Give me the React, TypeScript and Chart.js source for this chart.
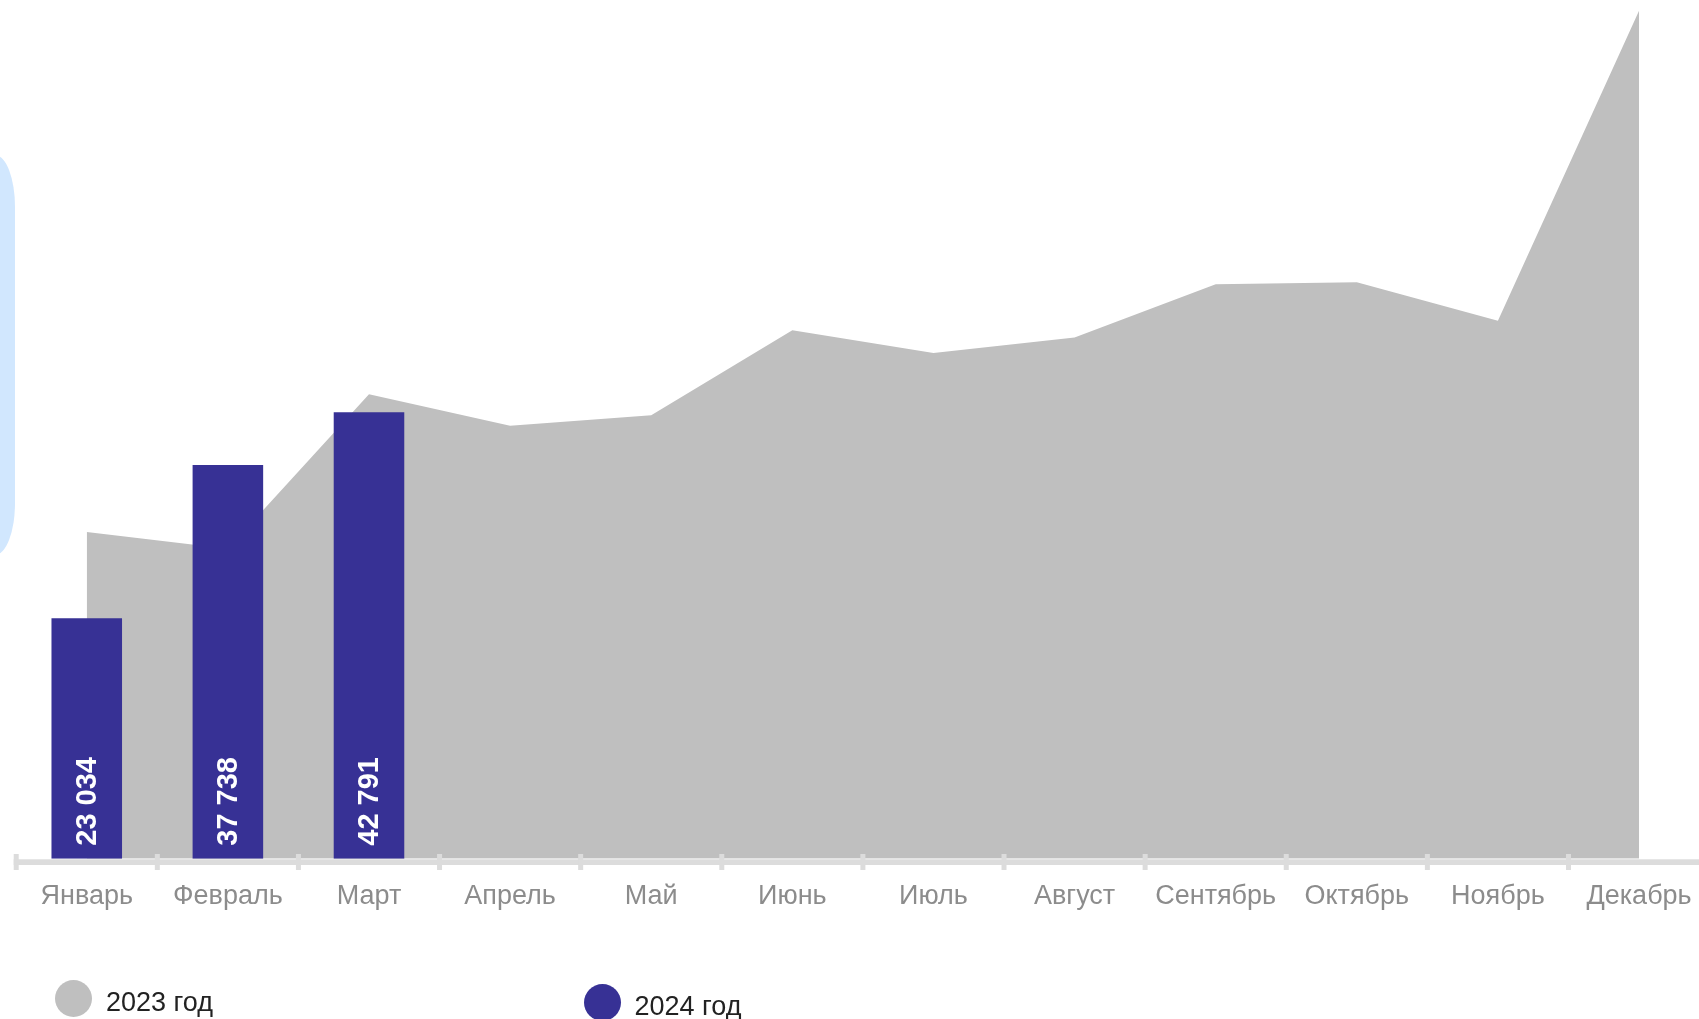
import React, { useEffect, useRef } from "react";
import { Chart, registerables } from "chart.js";

Chart.register(...registerables);

const months = [
  "Январь", "Февраль", "Март", "Апрель", "Май", "Июнь",
  "Июль", "Август", "Сентябрь", "Октябрь", "Ноябрь", "Декабрь",
];
const values2023 = [31300, 29700, 44500, 41500, 42500, 50650, 48450, 49950, 55050, 55250, 51550, 81250];
const values2024 = [23034, 37738, 42791, null, null, null, null, null, null, null, null, null];
const legendLabels = ["2023 год", "2024 год"];

const GREY = "#bfbfbf";
const NAVY = "#373195";
const AXIS = "#dcdcdc";
const FONT = "'Liberation Sans', Arial, sans-serif";

const fmt = (v: number) => String(v).replace(/\B(?=(\d{3})+(?!\d))/g, " ");

const axisPlugin = {
  id: "axisDecor",
  afterDraw(chart: any) {
    const { ctx, chartArea } = chart;
    const n = months.length;
    const step = (chartArea.right - chartArea.left) / n;
    const b = chartArea.bottom;
    ctx.save();
    ctx.fillStyle = AXIS;
    ctx.fillRect(chartArea.left - 2.5, b + 0.6, chart.width, 5.7);
    for (let i = 0; i <= n; i++) {
      const x = chartArea.left + i * step;
      ctx.fillRect(x - 2.5, b - 4.7, 5, 16);
    }
    ctx.restore();
  },
};

const barLabelPlugin = {
  id: "barLabels",
  afterDatasetsDraw(chart: any) {
    const { ctx, chartArea } = chart;
    const meta = chart.getDatasetMeta(1);
    ctx.save();
    ctx.fillStyle = "#ffffff";
    ctx.font = `bold 29px ${FONT}`;
    ctx.textAlign = "left";
    ctx.textBaseline = "middle";
    meta.data.forEach((el: any, i: number) => {
      const v = values2024[i];
      if (v == null) return;
      ctx.save();
      ctx.translate(el.x, chartArea.bottom - 13);
      ctx.rotate(-Math.PI / 2);
      ctx.fillText(fmt(v), 0, 1);
      ctx.restore();
    });
    ctx.restore();
  },
};

function ChartCanvas() {
  const ref = useRef<HTMLCanvasElement | null>(null);
  useEffect(() => {
    if (!ref.current) return;
    const chart = new Chart(ref.current, {
      type: "bar",
      data: {
        labels: months,
        datasets: [
          {
            type: "line",
            label: legendLabels[0],
            data: values2023,
            fill: "origin",
            backgroundColor: GREY,
            borderWidth: 0,
            borderColor: GREY,
            pointRadius: 0,
            tension: 0,
            order: 2,
          } as any,
          {
            type: "bar",
            label: legendLabels[1],
            data: values2024,
            backgroundColor: NAVY,
            borderWidth: 0,
            barPercentage: 0.5,
            categoryPercentage: 1,
            order: 1,
          } as any,
        ],
      },
      options: {
        responsive: false,
        animation: false,
        devicePixelRatio: 1,
        layout: { padding: { left: 16.2, right: 30.4, top: 3, bottom: 0 } },
        plugins: {
          legend: { display: false },
          tooltip: { enabled: false },
          title: { display: false },
        },
        scales: {
          x: {
            type: "category",
            offset: true,
            grid: { display: false, drawTicks: false },
            border: { display: false },
            ticks: {
              color: "#8c8c8c",
              font: { family: FONT, size: 27 },
              padding: 21.5,
              maxRotation: 0,
              autoSkip: false,
            },
            afterFit: (s: any) => {
              s.height = 1019 - 858.7;
            },
          },
          y: {
            display: false,
            min: 0,
            max: 82000,
            grid: { display: false },
          },
        },
      },
      plugins: [axisPlugin, barLabelPlugin],
    });
    return () => chart.destroy();
  }, []);
  return <canvas ref={ref} width={1740} height={1019} style={{ display: "block" }} />;
}

export default function App() {
  const textStyle: React.CSSProperties = {
    position: "absolute",
    fontFamily: FONT,
    fontSize: 27,
    lineHeight: "26px",
    color: "#222222",
    whiteSpace: "nowrap",
  };
  return (
    <div
      style={{
        position: "absolute",
        left: 0,
        top: 0,
        width: 1699,
        height: 1019,
        overflow: "hidden",
        background: "#ffffff",
      }}
    >
      <div
        style={{
          position: "absolute",
          left: -60,
          top: 155,
          width: 75,
          height: 400,
          background: "#d1e7fe",
          borderTopRightRadius: "20px 52px",
          borderBottomRightRadius: "20px 52px",
        }}
      />
      <div style={{ position: "absolute", left: 0, top: 0 }}>
        <ChartCanvas />
      </div>
      <div
        style={{
          position: "absolute",
          left: 54.5,
          top: 980,
          width: 37,
          height: 37,
          borderRadius: "50%",
          background: GREY,
        }}
      />
      <div style={{ ...textStyle, left: 106, top: 988.6 }}>{legendLabels[0]}</div>
      <div
        style={{
          position: "absolute",
          left: 583.5,
          top: 984,
          width: 37,
          height: 37,
          borderRadius: "50%",
          background: NAVY,
        }}
      />
      <div style={{ ...textStyle, left: 634.5, top: 993.1 }}>{legendLabels[1]}</div>
    </div>
  );
}
